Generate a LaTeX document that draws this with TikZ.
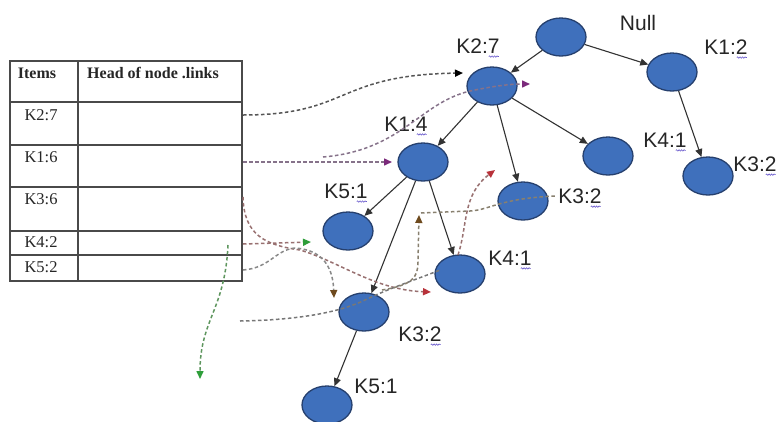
\documentclass[tikz,border=0pt]{standalone}
\usepackage{fontspec}
\setmainfont{Liberation Serif}
\newfontfamily\lblfont{Liberation Sans}
\usetikzlibrary{shapes.geometric,arrows.meta,decorations.pathmorphing}

\definecolor{nodeblue}{HTML}{3F70BC}
\definecolor{nodeedge}{HTML}{26406E}
\definecolor{gridline}{HTML}{4A4A4A}
\definecolor{lnkdark}{HTML}{555555}
\definecolor{lnkpurple}{HTML}{86728A}
\definecolor{lnkred}{HTML}{987070}
\definecolor{lnkgreen}{HTML}{5E965E}
\definecolor{lnkbrown}{HTML}{88806F}
\definecolor{tippurple}{HTML}{7B2A7B}
\definecolor{tipred}{HTML}{B8323A}
\definecolor{tipgreen}{HTML}{2E9E3A}
\definecolor{tipbrown}{HTML}{6E4A1E}
\definecolor{wiggle}{HTML}{6A5ACD}

\begin{document}
\begin{tikzpicture}[x=1pt,y=-1pt,
  tnode/.style={ellipse, draw=nodeedge, line width=1.3pt, fill=nodeblue,
    minimum width=50pt, minimum height=38pt, inner sep=0pt},
  lbl/.style={font=\lblfont\fontsize{21}{24}\selectfont, text=black!85, inner sep=0pt},
  cell/.style={font=\fontsize{16.5}{18}\selectfont, text=black!85, inner sep=0pt},
  hcell/.style={font=\bfseries\fontsize{16}{18}\selectfont, text=black!85, inner sep=0pt},
  tedge/.style={draw=black!80, line width=1.1pt, -{Triangle[length=8pt,width=7pt]}},
  lnk/.style={dash pattern=on 3.5pt off 2.5pt, line width=1.5pt},
  wig/.style={decorate, decoration={snake, amplitude=0.7pt, segment length=2.5pt},
    draw=wiggle, line width=0.6pt}
]
\useasboundingbox (0,0) rectangle (776,421);
\fill[white] (0,0) rectangle (776,421);

% ---- header table ----
\begin{scope}[draw=gridline, line width=1.4pt]
  \draw (10,61) rectangle (242,281);
  \draw (78,61) -- (78,281);
  \foreach \yy in {102,145,187,231,255} \draw (10,\yy) -- (242,\yy);
\end{scope}
\node[hcell] (hItems) at (37,73) {Items};
\node[hcell] (hHead) at (153,73) {Head of node .links};
\node[cell] (r27) at (41,115) {K2:7};
\node[cell] (r16) at (41,157) {K1:6};
\node[cell] (r36) at (41,199) {K3:6};
\node[cell] (r42) at (41,242.5) {K4:2};
\node[cell] (r52) at (41,267) {K5:2};

% ---- tree nodes ----
\node[tnode] (null) at (561,37) {};
\node[tnode] (k27) at (492,86) {};
\node[tnode] (k12) at (672,72) {};
\node[tnode] (k32r) at (708,176) {};
\node[tnode] (k41r) at (608,156) {};
\node[tnode] (k32m) at (523,201) {};
\node[tnode] (k14) at (423,162) {};
\node[tnode] (k51) at (348,231) {};
\node[tnode] (k41) at (460,274) {};
\node[tnode] (k32) at (364,312) {};
\node[tnode] (k51b) at (327,405) {};

% ---- labels ----
\node[lbl] (lnull) at (638,23) {Null};
\node[lbl] (l27) at (478,46) {K2:7};
\node[lbl] (l12) at (726,47) {K1:2};
\node[lbl] (l14) at (406,124) {K1:4};
\node[lbl] (l41r) at (665,140) {K4:1};
\node[lbl] (l32r) at (755,164) {K3:2};
\node[lbl] (l32m) at (580,196) {K3:2};
\node[lbl] (l51) at (346,191) {K5:1};
\node[lbl] (l41) at (510,258) {K4:1};
\node[lbl] (l32) at (420,334) {K3:2};
\node[lbl] (l51b) at (376,386) {K5:1};

\foreach \n in {l27,l12,l14,l41r,l32r,l32m,l51,l41,l32}
  \draw[wig] ([xshift=-11pt,yshift=-3pt]\n.south east) -- ++(10,0);

% ---- tree edges ----
\draw[tedge] (null) -- (k27);
\draw[tedge] (null) -- (k12);
\draw[tedge] (k12) -- (k32r);
\draw[tedge] (k27) -- (k14);
\draw[tedge] (k27) -- (k32m);
\draw[tedge] (k27) -- (k41r);
\draw[tedge] (k14) -- (k51);
\draw[tedge] (k14) -- (k32);
\draw[tedge] (k14) -- (k41);
\draw[tedge] (k32) -- (k51b);

% ---- node-link ends ----
\coordinate (s27) at (243,115);
\coordinate (s16) at (243,162);
\coordinate (s36) at (243,197);
\coordinate (s42) at (243,244);
\coordinate (s52) at (243,270);
\coordinate (g42) at (228,245);
\coordinate (sOut) at (240,321);
\coordinate (k14a) at (323,157);
\coordinate (e27) at (463,73);
\coordinate (e14) at (392,162);
\coordinate (e12) at (530,84);
\coordinate (e36) at (431,292);
\coordinate (e42) at (311,242);
\coordinate (e52) at (334,298);
\coordinate (eDown) at (200,379);
\coordinate (e41) at (440,270);
\coordinate (s41) at (458,255);
\coordinate (e41r) at (495,170);
\coordinate (s32) at (382,290);
\coordinate (e32) at (419,215);
\coordinate (s32m) at (421,213);
\coordinate (e32m) at (557,196);

% ---- node-links ----
\draw[lnk, draw=lnkdark, -{Triangle[length=8pt,width=7pt,color=black]}]
  (s27) .. controls (350,115) and (335,75) .. (e27);
\draw[lnk, draw=lnkpurple, -{Triangle[length=8pt,width=7pt,color=tippurple]}]
  (s16) -- (e14);
\draw[lnk, draw=lnkpurple, -{Triangle[length=8pt,width=7pt,color=tippurple]}]
  (k14a) .. controls (405,150) and (420,100) .. (475,90)
         .. controls (495,86) and (510,84) .. (e12);
\draw[lnk, draw=lnkred, -{Triangle[length=8pt,width=7pt,color=tipred]}]
  (s36) .. controls (244,235) and (265,245) .. (300,250)
        .. controls (340,262) and (375,290) .. (e36);
\draw[lnk, draw=lnkred, -{Triangle[length=8pt,width=7pt,color=tipgreen]}]
  (s42) -- (e42);
\draw[lnk, draw=lnkdark!70, -{Triangle[length=8pt,width=7pt,color=tipbrown]}]
  (s52) .. controls (270,268) and (275,250) .. (295,248)
        .. controls (325,250) and (333,270) .. (e52);
\draw[lnk, draw=lnkgreen, -{Triangle[length=8pt,width=7pt,color=tipgreen]}]
  (g42) .. controls (225,310) and (200,320) .. (eDown);
\draw[lnk, draw=lnkdark!80]
  (sOut) .. controls (300,320) and (340,312) .. (365,300)
         .. controls (390,288) and (415,280) .. (e41);
\draw[lnk, draw=lnkred, -{Triangle[length=8pt,width=7pt,color=tipred]}]
  (s41) .. controls (468,225) and (462,195) .. (e41r);
\draw[lnk, draw=lnkbrown, -{Triangle[length=8pt,width=7pt,color=tipbrown]}]
  (s32) .. controls (412,285) and (418,278) .. (418,262) -- (e32);
\draw[lnk, draw=lnkbrown]
  (s32m) -- (470,211) .. controls (490,210) and (500,198) .. (e32m);
\end{tikzpicture}
\end{document}
